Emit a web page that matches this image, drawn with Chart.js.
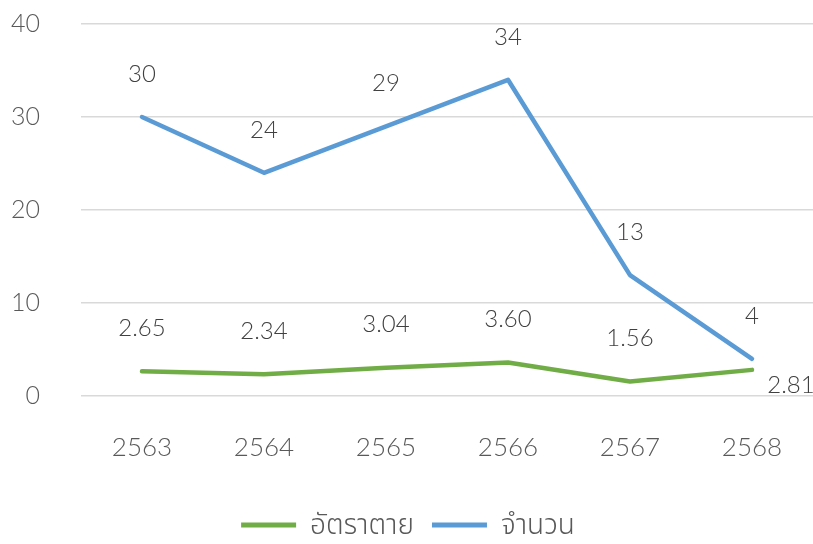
<!DOCTYPE html>
<html lang="th">
<head>
    <meta charset="UTF-8"/>
    <title>อัตราตาย และ จำนวน 2563-2568</title>
    <script src="https://cdn.jsdelivr.net/npm/chart.js"></script>
    <style>
        html, body {
            margin: 0;
            padding: 0;
            background-color: #fff;
            width: 100%;
            height: 100%;
            overflow: hidden;
        }
        .chart-wrap {
            position: relative;
            width: 813px;
            height: 544px;
        }
    </style>
</head>
<body>
<div class="chart-wrap">
    <canvas id="trendChart"></canvas>
</div>

<script>
    const years = ['2563', '2564', '2565', '2566', '2567', '2568'];
    const deathRate = [2.65, 2.34, 3.04, 3.60, 1.56, 2.81];
    const caseCount = [30, 24, 29, 34, 13, 4];
    const yTicks = [0, 10, 20, 30, 40];

    const fontFamily = "Lato, 'Noto Sans', 'Noto Sans Thai', sans-serif";

    // value labels above each point; the last death rate label sits below-right
    const valueLabels = {
        id: 'valueLabels',
        afterDatasetsDraw(chart) {
            const ctx = chart.ctx;
            ctx.save();
            ctx.font = '300 24px ' + fontFamily;
            ctx.fillStyle = '#404040';
            ctx.textAlign = 'center';
            ctx.textBaseline = 'middle';
            chart.data.datasets.forEach((ds, i) => {
                const meta = chart.getDatasetMeta(i);
                meta.data.forEach((pt, j) => {
                    let text = ds.labelFmt(ds.data[j]);
                    let dx = 0, dy = -43;
                    if (ds.below && ds.below.includes(j)) {
                        dx = 39; dy = 15;
                    }
                    ctx.fillText(text, pt.x + dx, pt.y + dy);
                });
            });
            ctx.restore();
        }
    };

    const ctx = document.getElementById('trendChart').getContext('2d');

    new Chart(ctx, {
        type: 'line',
        data: {
            labels: years,
            datasets: [{
                label: 'อัตราตาย',
                data: deathRate,
                borderColor: '#70AD47',
                backgroundColor: '#70AD47',
                borderWidth: 4.5,
                borderCapStyle: 'round',
                borderJoinStyle: 'round',
                pointRadius: 0,
                tension: 0,
                labelFmt: v => v.toFixed(2),
                below: [5]
            }, {
                label: 'จำนวน',
                data: caseCount,
                borderColor: '#5B9BD5',
                backgroundColor: '#5B9BD5',
                borderWidth: 4.5,
                borderCapStyle: 'round',
                borderJoinStyle: 'round',
                pointRadius: 0,
                tension: 0,
                labelFmt: v => String(v)
            }]
        },
        options: {
            responsive: true,
            maintainAspectRatio: false,
            animation: false,
            layout: {
                padding: { top: 24, right: -3, left: 0, bottom: -5 }
            },
            scales: {
                x: {
                    offset: true,
                    grid: { display: false },
                    border: { display: false },
                    ticks: {
                        color: '#595959',
                        font: { family: fontFamily, size: 26, weight: 300 },
                        padding: 28
                    },
                    afterFit(scale) { scale.height = 97; }
                },
                y: {
                    min: 0,
                    max: 40,
                    afterBuildTicks(scale) {
                        scale.ticks = yTicks.map(v => ({ value: v }));
                    },
                    grid: {
                        color: '#D9D9D9',
                        lineWidth: 1.5,
                        drawTicks: true,
                        tickLength: 41,
                        tickColor: 'rgba(0,0,0,0)'
                    },
                    border: { display: false },
                    ticks: {
                        color: '#595959',
                        font: { family: fontFamily, size: 25, weight: 300 },
                        padding: 0
                    },
                    afterFit(scale) { scale.width = 81; }
                }
            },
            plugins: {
                legend: {
                    position: 'bottom',
                    labels: {
                        color: '#595959',
                        font: { family: fontFamily, size: 28, weight: 300 },
                        boxWidth: 55,
                        boxHeight: 5,
                        padding: 18,
                        generateLabels(chart) {
                            return chart.data.datasets.map((ds, i) => ({
                                text: ds.label,
                                fillStyle: ds.borderColor,
                                strokeStyle: ds.borderColor,
                                lineWidth: 0,
                                fontColor: '#595959',
                                datasetIndex: i
                            }));
                        }
                    }
                },
                tooltip: { enabled: false }
            }
        },
        plugins: [valueLabels]
    });
</script>
</body>
</html>
